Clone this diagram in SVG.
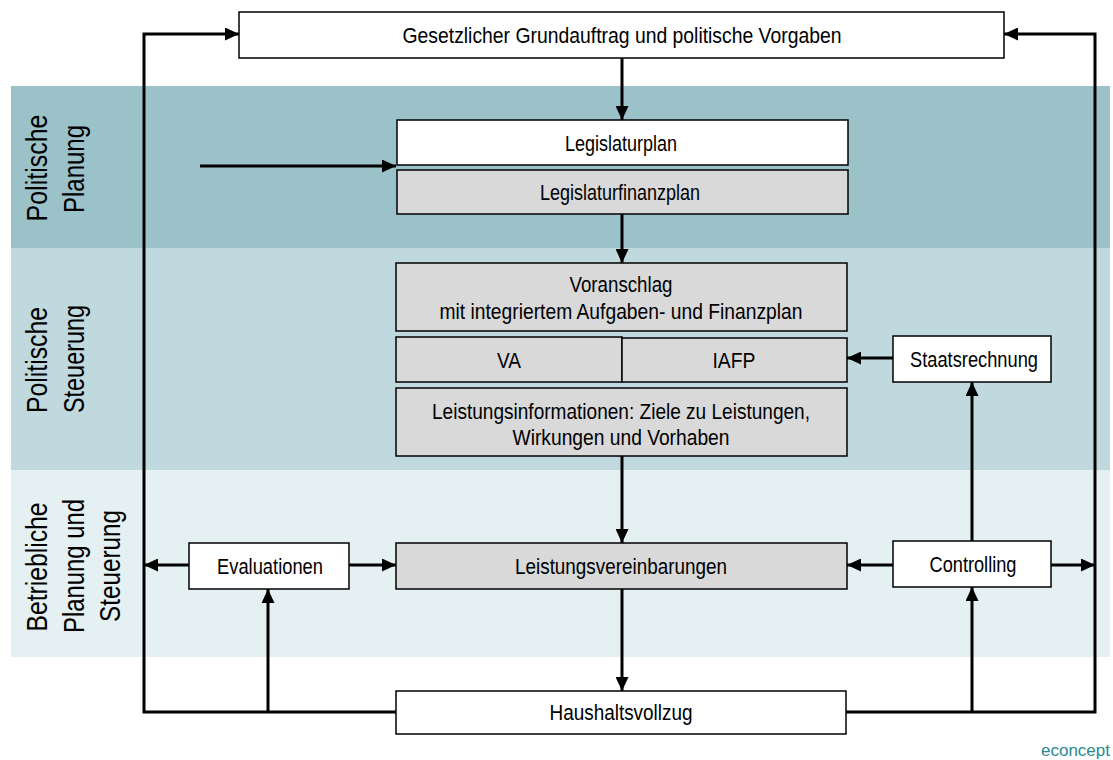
<svg xmlns="http://www.w3.org/2000/svg" width="1113" height="760" viewBox="0 0 1113 760">
<style>
.box{stroke:#000;stroke-width:1.5}
.w{fill:#fff}
.g{fill:#d9d9d9}
.t{font-family:"Liberation Sans",Arial,sans-serif;font-size:21.5px;fill:#000;text-anchor:middle}
.lane{font-family:"Liberation Sans",Arial,sans-serif;font-size:30px;fill:#000;text-anchor:middle}
.c{fill:none;stroke:#000;stroke-width:3}
</style>
<defs>
<marker id="ah" markerUnits="userSpaceOnUse" markerWidth="14" markerHeight="13" refX="14" refY="6.5" orient="auto">
<path d="M0,0 L14,6.5 L0,13 z" fill="#000"/>
</marker>
</defs>
<rect width="1113" height="760" fill="#fff"/>
<g id="bands">
<rect x="11" y="86" width="1099" height="162" fill="#9bc1c9"/>
<rect x="11" y="248" width="1099" height="222" fill="#c0d9de"/>
<rect x="11" y="470" width="1099" height="187" fill="#e5f0f2"/>
<text class="lane" transform="translate(47,168) rotate(-90)" textLength="107" lengthAdjust="spacingAndGlyphs">Politische</text>
<text class="lane" transform="translate(84,169) rotate(-90)" textLength="88" lengthAdjust="spacingAndGlyphs">Planung</text>
<text class="lane" transform="translate(47,360) rotate(-90)" textLength="106" lengthAdjust="spacingAndGlyphs">Politische</text>
<text class="lane" transform="translate(84,359) rotate(-90)" textLength="108" lengthAdjust="spacingAndGlyphs">Steuerung</text>
<text class="lane" transform="translate(47,567) rotate(-90)" textLength="129" lengthAdjust="spacingAndGlyphs">Betriebliche</text>
<text class="lane" transform="translate(84,566) rotate(-90)" textLength="134" lengthAdjust="spacingAndGlyphs">Planung und</text>
<text class="lane" transform="translate(120,566) rotate(-90)" textLength="112" lengthAdjust="spacingAndGlyphs">Steuerung</text>
</g>
<g id="connectors">
<path class="c" d="M396 712 H144 V34 H239" marker-end="url(#ah)"/>
<path class="c" d="M846 712 H1095 V34 H1004" marker-end="url(#ah)"/>
<path class="c" d="M268 712 V589" marker-end="url(#ah)"/>
<path class="c" d="M972 712 V587" marker-end="url(#ah)"/>
<path class="c" d="M622 58 V120" marker-end="url(#ah)"/>
<path class="c" d="M200 166 H396" marker-end="url(#ah)"/>
<path class="c" d="M622 214 V263" marker-end="url(#ah)"/>
<path class="c" d="M893 358 H847" marker-end="url(#ah)"/>
<path class="c" d="M622 456 V543" marker-end="url(#ah)"/>
<path class="c" d="M972 541 V382" marker-end="url(#ah)"/>
<path class="c" d="M893 565 H847" marker-end="url(#ah)"/>
<path class="c" d="M1051 565 H1095" marker-end="url(#ah)"/>
<path class="c" d="M189 565 H144" marker-end="url(#ah)"/>
<path class="c" d="M349 565 H396" marker-end="url(#ah)"/>
<path class="c" d="M622 589 V691" marker-end="url(#ah)"/>
</g>
<g id="grundauftrag">
<rect class="box w" x="239" y="12" width="765" height="46"/>
<text class="t" x="622" y="43" textLength="439" lengthAdjust="spacingAndGlyphs">Gesetzlicher  Grundauftrag  und  politische  Vorgaben</text>
</g>
<g id="legislaturplan">
<rect class="box w" x="397" y="120" width="451" height="45"/>
<text class="t" x="621" y="151" textLength="112" lengthAdjust="spacingAndGlyphs">Legislaturplan</text>
</g>
<g id="legislaturfinanzplan">
<rect class="box g" x="397" y="170" width="451" height="44"/>
<text class="t" x="620" y="200" textLength="160" lengthAdjust="spacingAndGlyphs">Legislaturfinanzplan</text>
</g>
<g id="voranschlag">
<rect class="box g" x="396" y="263" width="451" height="68"/>
<text class="t" x="621" y="292" textLength="103" lengthAdjust="spacingAndGlyphs">Voranschlag</text>
<text class="t" x="621" y="319" textLength="363" lengthAdjust="spacingAndGlyphs">mit integriertem  Aufgaben-  und  Finanzplan</text>
</g>
<g id="va">
<rect class="box g" x="396" y="337" width="226" height="45"/>
<text class="t" x="509" y="368" textLength="24" lengthAdjust="spacingAndGlyphs">VA</text>
</g>
<g id="iafp">
<rect class="box g" x="622" y="338" width="225" height="44"/>
<text class="t" x="734" y="368" textLength="43" lengthAdjust="spacingAndGlyphs">IAFP</text>
</g>
<g id="leistungsinformationen">
<rect class="box g" x="396" y="388" width="451" height="68"/>
<text class="t" x="621" y="419" textLength="378" lengthAdjust="spacingAndGlyphs">Leistungsinformationen:  Ziele  zu Leistungen,</text>
<text class="t" x="621" y="445" textLength="217" lengthAdjust="spacingAndGlyphs">Wirkungen  und Vorhaben</text>
</g>
<g id="staatsrechnung">
<rect class="box w" x="893" y="336" width="158" height="46"/>
<text class="t" x="974" y="367" textLength="128" lengthAdjust="spacingAndGlyphs">Staatsrechnung</text>
</g>
<g id="evaluationen">
<rect class="box w" x="189" y="543" width="160" height="46"/>
<text class="t" x="270" y="574" textLength="106" lengthAdjust="spacingAndGlyphs">Evaluationen</text>
</g>
<g id="leistungsvereinbarungen">
<rect class="box g" x="396" y="543" width="451" height="46"/>
<text class="t" x="621" y="574" textLength="212" lengthAdjust="spacingAndGlyphs">Leistungsvereinbarungen</text>
</g>
<g id="controlling">
<rect class="box w" x="893" y="541" width="158" height="46"/>
<text class="t" x="973" y="572" textLength="87" lengthAdjust="spacingAndGlyphs">Controlling</text>
</g>
<g id="haushaltsvollzug">
<rect class="box w" x="396" y="691" width="450" height="43"/>
<text class="t" x="621" y="720" textLength="143" lengthAdjust="spacingAndGlyphs">Haushaltsvollzug</text>
</g>
<text x="1110" y="756" font-family="'Liberation Sans',Arial,sans-serif" font-size="17" fill="#2a8a90" text-anchor="end">econcept</text>
</svg>
